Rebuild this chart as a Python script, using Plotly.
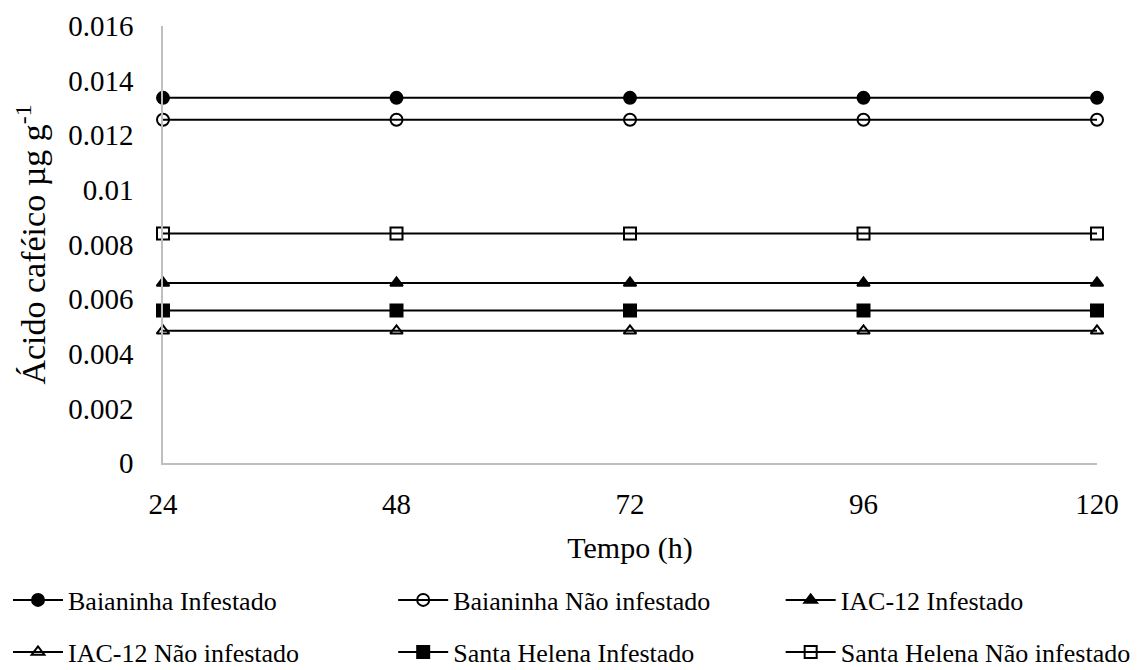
import plotly.graph_objects as go

tempo = [24, 48, 72, 96, 120]
series_names = [
    "Baianinha Infestado",
    "Baianinha Não infestado",
    "IAC-12 Infestado",
    "IAC-12 Não infestado",
    "Santa Helena Infestado",
    "Santa Helena Não infestado",
]
baianinha_inf = [0.01337, 0.01337, 0.01337, 0.01337, 0.01337]
baianinha_nao = [0.01257, 0.01257, 0.01257, 0.01257, 0.01257]
iac_inf = [0.00659, 0.00659, 0.00659, 0.00659, 0.00659]
iac_nao = [0.00484, 0.00484, 0.00484, 0.00484, 0.00484]
sh_inf = [0.00558, 0.00558, 0.00558, 0.00558, 0.00558]
sh_nao = [0.00840, 0.00840, 0.00840, 0.00840, 0.00840]
y_ticks = [0, 0.002, 0.004, 0.006, 0.008, 0.01, 0.012, 0.014, 0.016]
y_tick_text = ["0", "0.002", "0.004", "0.006", "0.008", "0.01", "0.012", "0.014", "0.016"]

values = [baianinha_inf, baianinha_nao, iac_inf, iac_nao, sh_inf, sh_nao]
symbols = ["circle", "circle-open", "triangle-up", "triangle-up-open", "square", "square-open"]
sizes = [12, 12, 11, 11, 12, 12]
legend_ids = ["legend", "legend2", "legend3", "legend4", "legend5", "legend6"]
legend_x = [0.007, 0.344, 0.683, 0.007, 0.344, 0.683]
legend_y = [1 - 600 / 670, 1 - 600 / 670, 1 - 600 / 670, 1 - 652 / 670, 1 - 652 / 670, 1 - 652 / 670]

FONT = "Times New Roman, Liberation Serif, serif"

fig = go.Figure()
for name, vals, sym, sz, lg in zip(series_names, values, symbols, sizes, legend_ids):
    fig.add_trace(go.Scatter(
        x=tempo, y=vals, name=name, mode="lines+markers",
        line=dict(color="black", width=2),
        marker=dict(symbol=sym, size=sz, color="black", line=dict(color="black", width=2)),
        cliponaxis=False, legend=lg,
    ))

layout_legends = {}
for lg, lx, ly in zip(legend_ids, legend_x, legend_y):
    layout_legends[lg] = dict(
        orientation="h", xref="container", yref="container",
        x=lx, y=ly, xanchor="left", yanchor="middle",
        font=dict(family=FONT, size=26, color="black"),
        itemwidth=50, bgcolor="rgba(0,0,0,0)",
    )

fig.update_layout(
    width=1143, height=670,
    margin=dict(l=163, r=46, t=26, b=207, autoexpand=False),
    paper_bgcolor="white", plot_bgcolor="white",
    font=dict(family=FONT, color="black"),
    showlegend=True,
    xaxis=dict(
        range=[24, 120], tickvals=tempo, ticktext=[str(t) for t in tempo],
        showgrid=False, zeroline=False, showline=True, linecolor="#bfbfbf", linewidth=1.5,
        ticks="", ticklabelstandoff=14, tickfont=dict(family=FONT, size=29, color="black"),
        title=dict(text="Tempo (h)", font=dict(family=FONT, size=30, color="black"), standoff=18),
    ),
    yaxis=dict(
        range=[0, 0.016], tickvals=y_ticks, ticktext=y_tick_text,
        showgrid=False, zeroline=False, showline=True, linecolor="#bfbfbf", linewidth=1.5,
        ticks="", ticklabelstandoff=22, tickfont=dict(family=FONT, size=29, color="black"),
        title=dict(text="Ácido caféico µg g<sup>-1</sup>", font=dict(family=FONT, size=34, color="black"), standoff=12),
    ),
    **layout_legends,
)

fig.write_html("out.html")
